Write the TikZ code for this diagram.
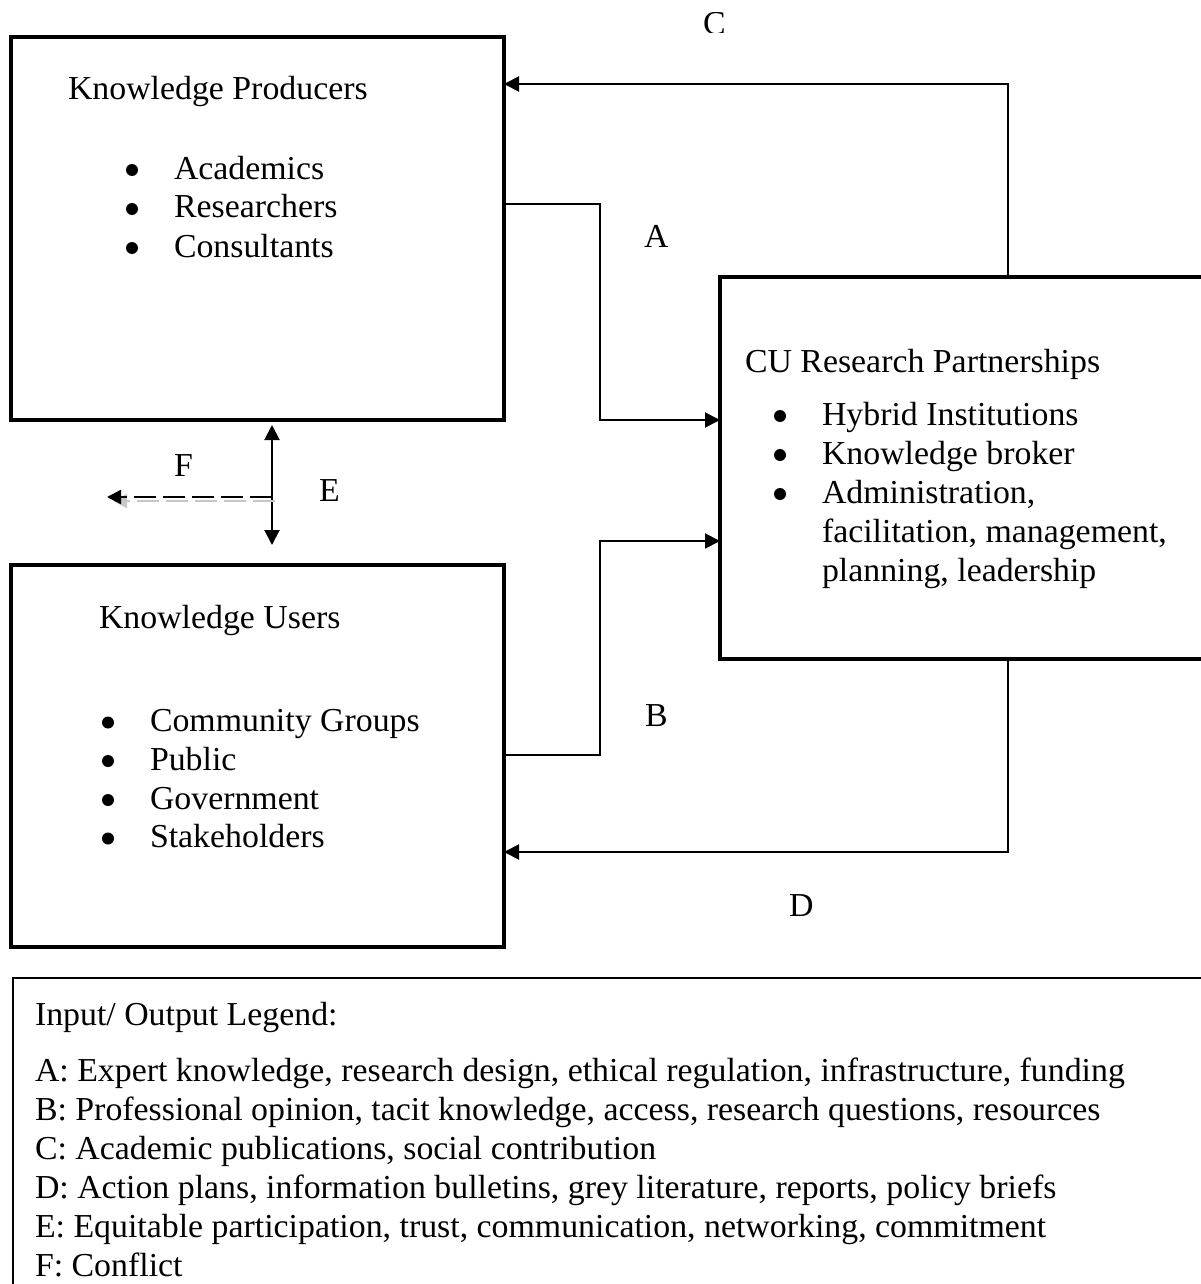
\documentclass[tikz,border=0pt]{standalone}
\usepackage{fontspec}
\setmainfont[FakeStretch=1.01]{Liberation Serif}
\usetikzlibrary{arrows.meta}
\newcommand\diagfont{\fontsize{33.5}{39}\selectfont}
\begin{document}
\begin{tikzpicture}[x=1pt,y=-1pt,
  box/.style={draw, line width=4pt, inner sep=0pt, outer sep=0pt},
  legendbox/.style={draw, line width=1.6pt, inner sep=0pt, outer sep=0pt},
  conn/.style={line width=2pt},
  tip/.style={-{Triangle[length=15pt,width=15pt]}},
  twotip/.style={{Triangle[length=15pt,width=15pt]}-{Triangle[length=15pt,width=15pt]}},
  dashconn/.style={line width=2.2pt, dash pattern=on 22pt off 7pt, -{Triangle[length=14pt,width=14pt]}},
  txt/.style={anchor=base west, inner sep=0pt, outer sep=0pt, font=\diagfont},
  dot/.style={circle, fill, inner sep=0pt, minimum size=12pt}
]
\useasboundingbox (0,0) rectangle (1201,1284);
\clip (0,0) rectangle (1201,1284);

% --- main boxes ---
\node[box, minimum width=493pt, minimum height=383pt] (kp) at (257.5,228.5) {};
\node[box, minimum width=493pt, minimum height=382pt] (ku) at (257.5,756) {};
\node[box, minimum width=495pt, minimum height=382pt] (cu) at (967.5,468) {};
\node[legendbox, minimum width=1210pt, minimum height=330pt] (lg) at (618,1143) {};

% --- knowledge producers ---
\node[txt] (kpTitle) at (68,100) {Knowledge Producers};
\foreach \y/\t [count=\i] in {179/Academics, 218/Researchers, 257/Consultants}{
  \node[dot] (kpDot\i) at (132,\y-9) {};
  \node[txt] (kpItem\i) at (174,\y) {\t};
}

% --- CU research partnerships ---
\node[txt] (cuTitle) at (745,372) {CU Research Partnerships};
\foreach \y/\t [count=\i] in {425/Hybrid Institutions, 464/Knowledge broker, 503/{Administration,}}{
  \node[dot] (cuDot\i) at (780,\y-9) {};
  \node[txt] (cuItem\i) at (822,\y) {\t};
}
\node[txt] (cuItem4) at (822,542) {facilitation, management,};
\node[txt] (cuItem5) at (822,581) {planning, leadership};

% --- knowledge users ---
\node[txt] (kuTitle) at (99,628) {Knowledge Users};
\foreach \y/\t [count=\i] in {731.5/Community Groups, 770/Public, 809/Government, 847.5/Stakeholders}{
  \node[dot] (kuDot\i) at (108,\y-9) {};
  \node[txt] (kuItem\i) at (150,\y) {\t};
}

% --- routing points of the connectors ---
\coordinate (aBend) at (600,204);
\coordinate (aIn) at (600,420);
\coordinate (bBend) at (600,755);
\coordinate (bIn) at (600,541);
\coordinate (cTurn) at (1008,84);
\coordinate (dTurn) at (1008,852);
\coordinate (eTop) at (272,425);
\coordinate (eBot) at (272,545);
\coordinate (fStart) at (272,497);
\coordinate (fEnd) at (107,497);

% A: producers -> partnerships
\draw[conn, tip] (kp.east |- aBend) -- (aBend) -- (aIn) -- (cu.west |- aIn);
% B: users -> partnerships
\draw[conn, tip] (ku.east |- bBend) -- (bBend) -- (bIn) -- (cu.west |- bIn);
% C: partnerships -> producers
\draw[conn, tip] (cu.north -| cTurn) -- (cTurn) -- (kp.east |- cTurn);
% D: partnerships -> users
\draw[conn, tip] (cu.south -| dTurn) -- (dTurn) -- (ku.east |- dTurn);
% E: two-way exchange between producers and users
\draw[conn, twotip] (eTop) -- (eBot);
% F: conflict, dashed with a soft shadow
\draw[dashconn, draw=black!22, fill=black!22] ([shift={(3pt,-4pt)}]fStart) -- ([shift={(6pt,-4pt)}]fEnd);
\draw[dashconn] (fStart) -- (fEnd);

% --- connector labels ---
\node[txt] (labA) at (644,247) {A};
\node[txt] (labB) at (645,726) {B};
\begin{scope}
  \clip (690,13) rectangle (740,33);
  \node[txt] (labC) at (703,35) {C};
\end{scope}
\node[txt] (labD) at (789,916) {D};
\node[txt] (labE) at (319,501) {E};
\node[txt] (labF) at (174,476) {F};

% --- legend ---
\node[txt] (lgTitle) at (35,1025) {Input/ Output Legend:};
\foreach \y/\t [count=\i] in {
  1081/{A: Expert knowledge, research design, ethical regulation, infrastructure, funding},
  1120/{B: Professional opinion, tacit knowledge, access, research questions, resources},
  1159/{C: Academic publications, social contribution},
  1198/{D: Action plans, information bulletins, grey literature, reports, policy briefs},
  1237/{E: Equitable participation, trust, communication, networking, commitment},
  1276/{F: Conflict}}{
  \node[txt] (lgLine\i) at (35,\y) {\t};
}
\end{tikzpicture}
\end{document}
